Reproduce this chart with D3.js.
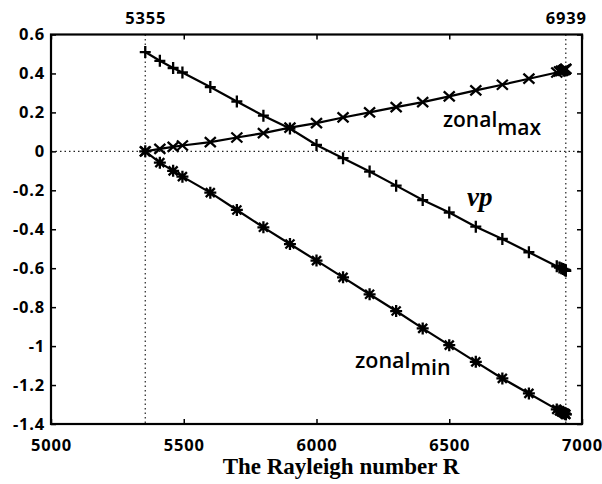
<!DOCTYPE html>
<html>
<head>
<meta charset="utf-8">
<script src="https://cdn.jsdelivr.net/npm/d3@7"></script>
<style>
  body{margin:0;background:#fff;}
  .tick text{font-family:"Open Sans",sans-serif;font-weight:bold;font-size:16.5px;letter-spacing:0.8px;fill:#000;}
</style>
</head>
<body>
<div id="chart"></div>
<script>
// Rayleigh numbers where the solution was computed
const rayleigh = [5355,5410,5460,5495,5600,5700,5800,5900,6000,6100,6200,6300,6400,6500,6600,6700,6800,
  6905,6915,6922,6928,6933,6936,6938,6939];
const upValues = [0.51,0.465,0.428,0.405,0.33,0.256,0.183,0.117,0.033,-0.035,-0.104,-0.176,-0.25,-0.314,-0.387,-0.45,-0.518,
  -0.59,-0.597,-0.6,-0.604,-0.607,-0.609,-0.611,-0.613];
const zonalMax = [0,0.013,0.023,0.03,0.047,0.071,0.094,0.122,0.145,0.174,0.2,0.227,0.253,0.282,0.313,0.342,0.373,
  0.405,0.41,0.413,0.415,0.418,0.42,0.422,0.424];
const zonalMin = [0,-0.058,-0.1,-0.13,-0.212,-0.301,-0.39,-0.476,-0.561,-0.647,-0.734,-0.82,-0.909,-0.995,-1.081,-1.166,-1.243,
  -1.325,-1.332,-1.337,-1.341,-1.345,-1.347,-1.349,-1.351];

const xTicks = [5000,5500,6000,6500,7000];
const yTicks = [0.6,0.4,0.2,0,-0.2,-0.4,-0.6,-0.8,-1,-1.2,-1.4];
const markTicks = [5355,6939];

const width = 602, height = 484;
const margin = {"top":34.5,"right":20,"bottom":60,"left":51};

const svg = d3.select("#chart")
  .append("svg")
  .attr("width",width)
  .attr("height",height);

const x = d3.scaleLinear().domain([5000,7000]).range([margin.left,width-margin.right]);
const y = d3.scaleLinear().domain([-1.4,0.6]).range([height-margin.bottom,margin.top]);

const fmt = d => String(+d.toFixed(1));

// dotted guides
svg.append("line")
  .attr("x1",x(5000)).attr("x2",x(7000))
  .attr("y1",y(0)).attr("y2",y(0))
  .attr("stroke","#222").attr("stroke-width",1.2).attr("stroke-dasharray","1.5,3");
svg.selectAll("line.vguide")
  .data(markTicks)
  .join("line")
  .attr("class","vguide")
  .attr("x1",d=>x(d)).attr("x2",d=>x(d))
  .attr("y1",y(0.6)).attr("y2",y(-1.4))
  .attr("stroke","#222").attr("stroke-width",1.2).attr("stroke-dasharray","1.5,3");

// axes, ticks pointing inward
svg.append("g")
  .attr("transform",`translate(${x(5000)},0)`)
  .call(d3.axisLeft(y).tickValues(yTicks).tickSize(-5).tickPadding(6).tickFormat(fmt));
svg.append("g")
  .attr("transform",`translate(${x(7000)},0)`)
  .call(d3.axisRight(y).tickValues(yTicks).tickSize(-5).tickFormat(""));
svg.append("g")
  .attr("transform",`translate(0,${y(-1.4)})`)
  .call(d3.axisBottom(x).tickValues(xTicks).tickSize(-5).tickPadding(15).tickFormat(d=>d));
svg.append("g")
  .attr("transform",`translate(0,${y(0.6)})`)
  .call(d3.axisTop(x).tickValues(xTicks).tickSize(-5).tickFormat(""));
svg.append("g")
  .attr("transform",`translate(0,${y(0.6)})`)
  .call(d3.axisTop(x).tickValues(markTicks).tickSize(0).tickPadding(11).tickFormat(d=>d));

svg.selectAll(".domain").remove();
svg.selectAll(".tick line").attr("stroke","#000").attr("stroke-width",1.5);

svg.append("rect")
  .attr("x",x(5000)).attr("y",y(0.6))
  .attr("width",x(7000)-x(5000)).attr("height",y(-1.4)-y(0.6))
  .attr("fill","none").attr("stroke","#000").attr("stroke-width",2.2);

// series
const marks = {
  "plus":"M-5.5,0H5.5M0,-6V6",
  "cross":"M-5.5,-5L5.5,5M-5.5,5L5.5,-5",
  "star":"M-6,0H6M0,-6V6M-4.5,-4.5L4.5,4.5M-4.5,4.5L4.5,-4.5"
};
const series = [
  {"name":"up","values":upValues,"mark":"plus"},
  {"name":"zmax","values":zonalMax,"mark":"cross"},
  {"name":"zmin","values":zonalMin,"mark":"star"}
];

const line = d3.line()
  .x(d => x(d.r))
  .y(d => y(d.v));

series.forEach(s => {
  const pts = rayleigh.map((r,i) => ({"r":r,"v":s.values[i]}));
  svg.append("path")
    .datum(pts)
    .attr("fill","none")
    .attr("stroke","#000")
    .attr("stroke-width",2.2)
    .attr("d",line);
  svg.selectAll(`path.m-${s.name}`)
    .data(pts)
    .join("path")
    .attr("class",`m-${s.name}`)
    .attr("transform",d=>`translate(${x(d.r)},${y(d.v)})`)
    .attr("d",marks[s.mark])
    .attr("fill","none")
    .attr("stroke","#000")
    .attr("stroke-width",2.3);
});

// labels
const zmaxLabel = svg.append("text")
  .attr("x",443).attr("y",127)
  .attr("font-family","Open Sans, sans-serif").attr("font-weight",600).attr("font-size",21)
  .text("zonal");
zmaxLabel.append("tspan").attr("dy",7.5).text("max");

const zminLabel = svg.append("text")
  .attr("x",355).attr("y",368)
  .attr("font-family","Open Sans, sans-serif").attr("font-weight",600).attr("font-size",21.5)
  .text("zonal");
zminLabel.append("tspan").attr("dy",7).text("min");

svg.append("text")
  .attr("x",467).attr("y",206)
  .attr("font-family","Liberation Serif, serif").attr("font-style","italic").attr("font-weight","bold").attr("font-size",27)
  .text("vp");

svg.append("text")
  .attr("x",341).attr("y",474)
  .attr("text-anchor","middle")
  .attr("font-family","Liberation Serif, serif").attr("font-weight","bold").attr("font-size",23)
  .text("The Rayleigh number R");
</script>
</body>
</html>
